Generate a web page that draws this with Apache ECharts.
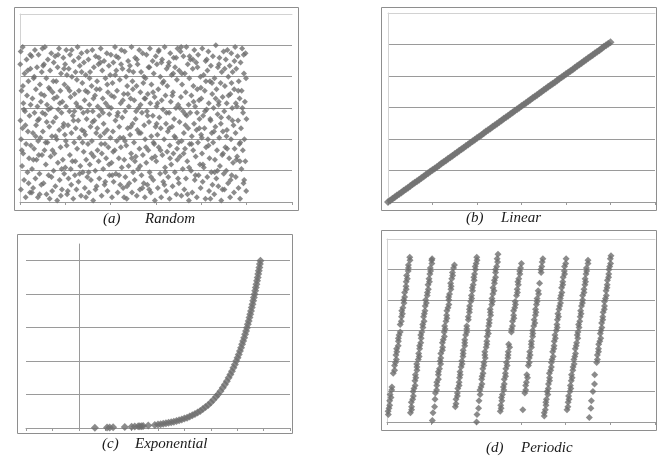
<!DOCTYPE html>
<html><head><meta charset="utf-8">
<script src="https://cdn.jsdelivr.net/npm/echarts@6/dist/echarts.min.js"></script>
<style>html,body{margin:0;padding:0;background:#fff}#c{width:663px;height:459px}</style>
</head><body><div id="c"></div>
<script>
// (a) Random: [index, value]
const randomPoints = [
[3,96],[1,88],[7,71],[2,52],[5,40],[9,23],[4,8],[12,99],[15,63],[11,47],[14,31],[18,14],[20,82],[22,58],[25,3],[27,37],[29,91],[31,68],[33,19],[35,45],[37,77],[40,28],[42,55],[44,6],[46,85],[48,36],[47,62],
[51,93],[53,21],[55,66],[57,44],[58,9],[60,79],[62,34],[64,57],[66,97],[68,15],[70,72],[71,49],[73,27],[75,86],[77,61],[79,3],[80,39],[82,94],[84,53],[86,18],[88,75],[90,41],[92,64],[94,11],[96,83],[97,30],[99,57],
[101,45],[102,87],[104,12],[107,68],[108,33],[110,99],[111,56],[114,24],[116,79],[117,5],[119,62],[121,38],[123,91],[126,17],[127,73],[129,48],[131,2],[133,84],[135,29],[136,60],[138,95],[141,42],[142,7],[144,70],[146,51],[148,20],[149,89],
[150,66],[152,31],[155,93],[156,10],[158,54],[160,77],[162,40],[164,1],[166,86],[167,25],[169,59],[172,98],[173,46],[175,14],[178,71],[179,35],[181,82],[183,57],[185,8],[187,64],[189,27],[191,92],[193,50],[195,18],[196,75],[198,43],[199,88],
[200,22],[203,61],[204,97],[206,36],[208,5],[210,73],[212,49],[214,15],[215,85],[218,58],[220,30],[221,94],[223,67],[226,11],[227,44],[229,80],[231,26],[233,55],[235,2],[237,90],[239,38],[241,69],[242,17],[245,83],[246,47],[248,63],[249,8],
[251,78],[252,34],[254,99],[257,52],[258,13],[260,71],[262,41],[264,87],[266,23],[268,60],[269,4],[271,95],[273,46],[275,76],[277,19],[279,57],[281,32],[282,89],[285,65],[286,9],[288,43],[290,81],[292,27],[294,53],[296,96],[297,16],[299,70],
[300,37],[302,91],[304,6],[306,62],[308,24],[309,83],[311,48],[313,14],[316,74],[317,39],[319,97],[321,58],[323,1],[325,29],[326,86],[328,52],[331,68],[332,20],[334,93],[336,44],[338,10],[340,77],[342,33],[343,61],[346,88],[347,26],[349,55],
[350,15],[352,72],[354,42],[356,98],[357,59],[360,4],[361,31],[363,84],[365,66],[367,21],[369,50],[371,90],[373,11],[375,37],[377,79],[378,63],[380,28],[383,95],[384,46],[386,7],[388,70],[390,35],[392,87],[394,56],[395,17],[398,81],[399,41],
[401,94],[402,60],[404,25],[406,3],[408,76],[410,45],[412,89],[413,13],[415,67],[418,33],[419,99],[421,52],[423,18],[425,84],[427,39],[428,71],[431,6],[432,57],[434,92],[436,28],[438,48],[440,78],[442,11],[444,63],[445,35],[447,97],[449,22],
[451,54],[452,85],[455,9],[456,41],[458,69],[460,27],[462,96],[464,58],[465,16],[468,80],[469,36],[471,2],[473,74],[475,47],[477,90],[479,23],[480,61],[482,12],[485,87],[486,43],[488,66],[490,31],[492,99],[494,6],[496,77],[497,50],[499,19],
[500,83],[503,38],[504,65],[506,14],[508,92],[510,53],[511,29],[514,74],[515,4],[518,46],[519,88],[521,21],[523,60],[526,97],[527,34],[529,8],[531,70],[533,44],[534,83],[536,17],[538,57],[541,95],[542,30],[544,76],[546,12],[548,49],[549,66],
[551,3],[552,40],[554,79],[557,25],[558,94],[560,58],[562,11],[564,69],[566,33],[567,86],[569,51],[572,19],[573,98],[575,63],[577,6],[579,42],[580,75],[582,28],[585,90],[586,55],[588,14],[590,82],[592,37],[594,67],[595,1],[598,48],[599,93],
[601,26],[602,61],[604,88],[606,43],[608,9],[610,72],[612,35],[613,97],[615,54],[618,18],[619,80],[621,47],[623,3],[625,65],[627,91],[628,30],[631,59],[632,13],[634,77],[636,40],[638,99],[640,22],[642,68],[644,50],[645,7],[647,85],[649,32],
[650,74],[652,45],[654,16],[657,89],[658,57],[660,2],[661,36],[663,95],[665,64],[667,24],[669,81],[671,48],[673,10],[675,70],[677,31],[678,92],[680,53],[683,19],[684,86],[686,41],[688,60],[690,5],[692,78],[694,27],[695,98],[698,62],[699,38],
[701,12],[702,84],[704,51],[706,29],[708,96],[710,67],[712,4],[713,39],[715,75],[718,21],[719,58],[721,93],[723,44],[725,8],[727,82],[728,34],[731,70],[732,15],[734,99],[736,55],[738,26],[740,88],[742,47],[744,62],[745,1],[747,79],[749,37],
[751,57],[752,91],[755,20],[756,68],[758,42],[760,6],[762,85],[764,33],[765,74],[768,50],[769,97],[771,14],[773,61],[775,29],[777,89],[779,46],[780,3],[782,72],[785,38],[786,94],[788,17],[790,65],[792,53],[794,24],[796,80],[797,9],[799,43],
[800,66],[803,31],[804,98],[806,13],[808,55],[810,81],[811,22],[814,47],[815,71],[818,2],[819,90],[821,35],[823,59],[826,16],[827,84],[829,40],[831,96],[833,63],[834,7],[836,28],[838,77],[841,52],[842,87],[844,19],[846,44],[848,69],[849,11],
[851,93],[852,38],[854,60],[857,5],[858,79],[860,27],[862,48],[864,100],[866,15],[867,72],[869,33],[872,56],[873,86],[875,10],[877,64],[879,41],[880,92],[882,23],[885,76],[886,50],[888,1],[890,83],[892,30],[894,67],[895,45],[898,96],[899,18],
[901,58],[902,8],[904,74],[906,35],[908,91],[910,20],[912,63],[913,46],[915,97],[918,12],[919,80],[921,54],[923,28],[925,87],[927,3],[928,69],[931,40],[932,95],[934,17],[936,60],[938,83],[940,25],[942,49],[944,6],[945,72],[947,34],[949,99],
[951,44],[952,16],[954,85],[957,61],[958,29],[960,93],[962,52],[964,9],[965,77],[968,37],[969,66],[971,2],[973,89],[975,47],[977,21],[978,71],[980,98],[983,33],[984,57],[986,12],[988,82],[990,40],[992,64],[994,26],[995,95],[998,7],[999,53],
[13,74],[24,49],[38,12],[45,94],[59,27],[63,80],[78,52],[87,5],[93,69],[106,88],[113,38],[125,59],[139,16],[147,77],[157,42],[168,94],[176,63],[184,21],[194,85],[202,39],[211,7],[219,71],[228,97],[236,52],[244,26],[255,61],[263,18],[272,83],[283,45],[291,3],[298,58],
[307,79],[315,31],[324,66],[333,8],[341,47],[348,92],[358,37],[366,57],[376,13],[385,75],[393,24],[403,68],[411,32],[420,81],[429,55],[437,17],[446,88],[454,65],[463,39],[472,10],[481,84],[489,48],[498,72],[507,26],[516,91],[525,44],[532,62],[540,9],[547,80],[556,35],
[563,55],[571,86],[578,16],[587,70],[596,29],[603,50],[611,96],[620,33],[629,76],[637,11],[646,57],[655,87],[662,28],[672,68],[681,42],[689,92],[697,15],[705,60],[714,82],[722,31],[730,49],[739,5],[748,93],[757,37],[766,64],[774,17],[783,86],[791,47],[798,73],
[807,24],[816,58],[824,91],[832,36],[840,2],[847,76],[856,45],[863,66],[871,20],[878,88],[887,54],[896,31],[903,85],[911,42],[920,68],[929,14],[937,52],[946,90],[955,27],[963,71],[972,38],[981,60],[989,14],[997,79],
[8,33],[17,59],[34,84],[52,6],[69,42],[83,30],[99,98],[118,51],[132,72],[143,33],[163,67],[180,4],[190,48],[207,81],[224,21],[240,58],[259,92],[276,38],[289,71],[303,19],[320,51],[337,72],[355,89],[372,44],[389,61],[407,17],[424,93],[441,41],[459,3],
[476,69],[493,28],[512,58],[530,23],[553,66],[570,8],[589,38],[607,63],[624,89],[641,19],[659,47],[676,82],[693,34],[711,99],[729,56],[746,22],[763,91],[781,57],[802,41],[820,77],[839,53],[859,19],[876,62],[893,8],[914,34],[933,76],[952,63],[970,26],[987,94]
];

// (b) Linear
const linearX = [0,10,20,30,40,50,60,70,80,90,100,110,120,130,140,150,160,170,180,190,200,210,220,230,240,250,260,270,280,290,300,310,320,330,340,350,360,370,380,390,400,410,420,430,440,450,460,470,480,490,500,510,520,530,540,550,560,570,580,590,600,610,620,630,640,650,660,670,680,690,700,710,720,730,740,750,760,770,780,790,800,810,820,830,840,850,860,870,880,890,900,910,920,930,940,950,960,970,980,990,1000];
const linearY = [0,1.0,2.0,3.0,4.1,5.1,6.1,7.1,8.1,9.1,10.2,11.2,12.2,13.2,14.2,15.2,16.2,17.3,18.3,19.3,20.3,21.3,22.3,23.3,24.4,25.4,26.4,27.4,28.4,29.4,30.5,31.5,32.5,33.5,34.5,35.5,36.5,37.6,38.6,39.6,40.6,41.6,42.6,43.6,44.7,45.7,46.7,47.7,48.7,49.7,50.8,51.8,52.8,53.8,54.8,55.8,56.8,57.9,58.9,59.9,60.9,61.9,62.9,63.9,65.0,66.0,67.0,68.0,69.0,70.0,71.1,72.1,73.1,74.1,75.1,76.1,77.1,78.2,79.2,80.2,81.2,82.2,83.2,84.2,85.3,86.3,87.3,88.3,89.3,90.3,91.4,92.4,93.4,94.4,95.4,96.4,97.4,98.5,99.5,100.5,101.5];

// (c) Exponential
const expX = [0.61,1.07,1.17,1.30,1.74,2.00,2.12,2.25,2.31,2.38,2.44,2.63,2.88,
3.0,3.1,3.2,3.3,3.4,3.5,3.6,3.7,3.8,3.9,4.0,4.1,4.2,4.3,4.4,4.5,4.6,4.7,4.8,4.9,5.0,5.1,5.2,
5.271,5.366,5.453,5.533,5.607,5.676,5.741,5.801,5.858,5.912,5.964,6.013,6.059,6.104,6.146,6.187,6.226,6.264,6.300,6.335,6.369,6.402,6.434,6.465,6.494,6.523,6.552,6.579,6.606,6.632,6.657,6.682,6.706,6.729,6.752,6.775,6.797,6.818,6.839,6.860,6.880];
const expY = [0.0095,0.015,0.0165,0.019,0.029,0.038,0.043,0.049,0.052,0.056,0.059,0.071,0.092,
0.103,0.114,0.126,0.139,0.154,0.170,0.188,0.208,0.230,0.254,0.281,0.310,0.343,0.379,0.419,0.463,0.511,0.565,0.625,0.690,0.763,0.843,0.932,
1.0,1.1,1.2,1.3,1.4,1.5,1.6,1.7,1.8,1.9,2.0,2.1,2.2,2.3,2.4,2.5,2.6,2.7,2.8,2.9,3.0,3.1,3.2,3.3,3.4,3.5,3.6,3.7,3.8,3.9,4.0,4.1,4.2,4.3,4.4,4.5,4.6,4.7,4.8,4.9,5.0];

// (d) Periodic: [index, value]
const periodicPoints = [
[6,5],[5,7],[9,9],[12,11],[12,14],[18,16],[14,18],[21,21],[22,23],[28,32],[34,34],[34,37],[38,39],[42,41],[40,44],[44,46],[43,48],[50,50],[51,53],[51,55],[54,57],[59,59],[59,64],[64,66],[65,69],[69,71],[66,73],[71,75],[76,78],[75,80],[79,82],[79,85],[86,87],[85,89],[86,92],[91,94],[88,96],[95,99],[96,101],[96,103],[103,106],[102,108],
[105,6],[110,8],[110,10],[109,13],[115,15],[118,17],[117,20],[121,22],[126,24],[125,27],[129,29],[127,31],[134,34],[134,36],[133,38],[140,41],[144,43],[142,45],[146,48],[146,50],[151,52],[153,55],[151,57],[156,59],[161,62],[160,64],[166,66],[164,69],[167,71],[170,73],[171,76],[176,78],[173,80],[180,83],[181,85],[185,87],[184,90],[190,92],[188,94],[192,97],[195,99],[194,101],[201,104],[200,106],[202,107],
[203,1],[206,6],[213,10],[215,15],[217,19],[222,21],[223,24],[223,26],[230,28],[230,31],[230,33],[235,35],[240,38],[238,40],[241,42],[241,45],[248,47],[249,49],[248,52],[252,54],[257,56],[256,59],[260,61],[258,63],[264,66],[268,68],[267,70],[268,73],[273,75],[277,77],[277,80],[276,82],[280,84],[286,87],[287,89],[285,91],[290,94],[294,96],[293,98],[298,101],[302,103],
[306,10],[309,12],[309,15],[315,17],[315,19],[317,22],[323,24],[323,26],[325,29],[328,31],[327,33],[332,36],[336,38],[335,40],[340,43],[341,45],[341,47],[348,50],[348,52],[348,54],[352,57],[357,59],[357,61],[357,63],[364,67],[364,69],[369,72],[369,74],[370,76],[375,79],[379,81],[378,83],[383,86],[382,88],[386,90],[390,93],[389,95],[392,97],[396,100],[395,102],[399,104],[403,106],[402,108],
[401,0],[403,5],[410,9],[412,14],[417,18],[416,21],[421,23],[425,25],[424,28],[426,30],[430,32],[429,35],[434,37],[434,39],[440,42],[438,44],[438,46],[444,49],[447,51],[447,53],[448,56],[454,58],[451,60],[455,63],[458,65],[458,67],[464,70],[463,72],[462,74],[469,77],[472,79],[470,81],[474,84],[479,86],[475,88],[481,91],[481,93],[486,95],[486,98],[486,100],[491,102],[495,105],[493,107],[497,110],
[507,7],[511,9],[509,11],[514,14],[513,16],[517,18],[523,21],[521,23],[525,25],[525,28],[531,30],[530,32],[532,35],[538,37],[535,39],[541,42],[542,44],[543,46],[549,49],[545,51],[557,59],[558,61],[562,63],[562,66],[568,68],[567,70],[567,73],[572,75],[575,77],[574,79],[580,83],[584,85],[583,87],[588,90],[586,92],[590,94],[595,97],[594,99],[598,101],[602,104],
[608,8],[617,19],[621,21],[621,24],[624,26],[629,29],[626,31],[633,37],[637,39],[637,42],[641,44],[639,46],[647,49],[646,51],[647,53],[652,56],[653,58],[652,60],[657,63],[662,65],[659,67],[664,70],[667,72],[665,74],[669,77],[672,79],[672,81],[679,84],[677,86],[683,91],[690,98],[689,100],[693,102],[695,105],[698,107],
[704,4],[704,6],[709,8],[712,11],[711,13],[714,15],[720,18],[717,20],[722,22],[723,25],[728,27],[728,29],[727,32],[733,34],[736,36],[736,39],[739,41],[744,43],[742,46],[747,48],[748,50],[749,53],[754,55],[752,57],[758,60],[762,62],[761,64],[763,67],[768,69],[765,71],[770,74],[773,76],[777,78],[776,81],[779,83],[783,85],[782,88],[787,90],[787,92],[789,95],[795,97],[794,99],[795,102],[800,104],[802,107],
[806,8],[810,10],[811,13],[815,15],[813,17],[819,20],[823,22],[821,24],[825,27],[829,29],[826,31],[832,34],[833,36],[838,38],[837,41],[841,43],[844,45],[843,48],[847,50],[849,52],[854,55],[852,57],[855,59],[860,62],[858,64],[863,66],[865,69],[869,71],[867,73],[871,76],[875,78],[876,80],[876,83],[882,85],[882,87],[886,90],[889,92],[887,94],[891,97],[894,99],[893,101],[900,104],[900,106],
[906,3],[913,9],[915,14],[922,20],[929,25],[930,31],[939,39],[942,41],[942,44],[947,46],[947,48],[948,51],[953,53],[957,55],[955,58],[958,60],[962,62],[961,65],[966,67],[966,69],[968,72],[973,74],[974,76],[974,79],[978,81],[982,83],[981,86],[985,88],[986,90],[987,93],[992,95],[993,97],[994,100],[997,102],[1001,104],[1000,107],[1003,109]
];

const captionTags = ['(a)','(b)','(c)','(d)'];
const captionNames = ['Random','Linear','Exponential','Periodic'];

const GRIDC = '#9a9a9a', LIGHT = '#d2d2d2', DOT = '#6e6e6e', FRAME = '#8e8e8e';
const grids = [
  {left:20, top:14, width:272, height:188},
  {left:388, top:13, width:267, height:189},
  {left:26, top:244, width:264, height:184},
  {left:387, top:239, width:268, height:183}
];
const xRange = [[0,1200,200],[0,1200,200],[-2,8,1],[0,1200,200]];
const yRange = [[0,120,20],[0,120,20],[0,5.5,1],[0,120,20]];
const symSizes = [6,8,8,7];

const xAxis = [], yAxis = [];
for (let i = 0; i < 4; i++) {
  xAxis.push({type:'value', gridIndex:i, min:xRange[i][0], max:xRange[i][1], interval:xRange[i][2],
    axisLine:{show:true, onZero:false, lineStyle:{color:GRIDC, width:1}},
    axisTick:{show:true, length:3, lineStyle:{color:GRIDC}},
    axisLabel:{show:false}, splitLine:{show:false}});
  yAxis.push({type:'value', gridIndex:i, min:yRange[i][0], max:yRange[i][1], interval:yRange[i][2],
    axisLine:{show:true, onZero: i===2, lineStyle:{color: i===2 ? GRIDC : LIGHT, width:1}},
    axisTick:{show:false}, axisLabel:{show:false},
    splitLine:{show:true, showMinLine:false, showMaxLine:false, lineStyle:{color:GRIDC, width:1}}});
}
[0,1,3].forEach(i => {
  xAxis.push({type:'value', gridIndex:i, position:'top', min:xRange[i][0], max:xRange[i][1], interval:xRange[i][2],
    axisLine:{show:true, onZero:false, lineStyle:{color:LIGHT, width:1}},
    axisTick:{show:false}, axisLabel:{show:false}, splitLine:{show:false}});
});

const mk = (i, data) => ({type:'scatter', xAxisIndex:i, yAxisIndex:i, data:data,
  symbol:'diamond', symbolSize:symSizes[i], itemStyle:{color:DOT}, animation:false, silent:true});
const series = [
  mk(0, randomPoints),
  mk(1, linearX.map((x,k)=>[x, linearY[k]])),
  mk(2, expX.map((x,k)=>[x, expY[k]])),
  mk(3, periodicPoints)
];

const frames = [[14.5,7.5,284,203],[381.5,7.5,275,203],[17.5,234.5,275,199],[381.5,230.5,275,200]];
const capPos = [[103,145,219],[466,501,218],[102,135,444],[486,521,448]];
const graphic = [];
frames.forEach(f => graphic.push({type:'rect', shape:{x:f[0], y:f[1], width:f[2], height:f[3]},
  style:{fill:'none', stroke:FRAME, lineWidth:1}, z:-1, silent:true}));
capPos.forEach((p,i) => {
  const st = {fontFamily:'"Liberation Serif", "DejaVu Serif", serif', fontSize:15, fontStyle:'italic', fill:'#1a1a1a',
    align:'left', textAlign:'left', verticalAlign:'middle', textVerticalAlign:'middle'};
  graphic.push({type:'text', x:p[0], y:p[2], style:Object.assign({text:captionTags[i]}, st), silent:true});
  graphic.push({type:'text', x:p[1], y:p[2], style:Object.assign({text:captionNames[i]}, st), silent:true});
});

const chart = echarts.init(document.getElementById('c'));
chart.setOption({
  animation:false,
  backgroundColor:'#ffffff',
  grid: grids,
  xAxis, yAxis, series, graphic
});
</script>
</body></html>
